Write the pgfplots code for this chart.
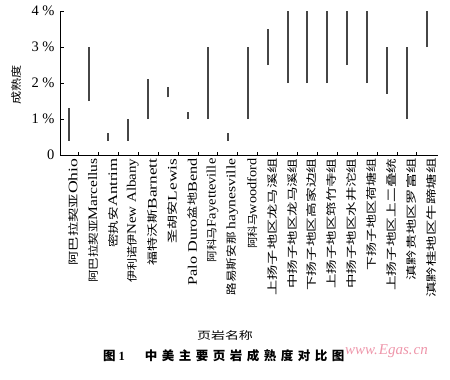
\documentclass[border=0pt]{standalone}
\usepackage{pgfplots}
\pgfplotsset{compat=1.18}
\usepackage{pgfplotstable}
\usepackage{fontspec}
\setmainfont{Liberation Serif}
\newfontfamily\zh{Noto Sans CJK SC}
\definecolor{barc}{RGB}{70,70,70}
\definecolor{wm}{RGB}{238,150,170}
\newcommand{\zs}{\zh\fontsize{10.5bp}{10.5bp}\selectfont}
\newcommand{\ls}{\rmfamily\fontsize{13bp}{13bp}\selectfont}
\newcommand{\lab}[2]{\scalebox{#1}[1]{#2}}

\pgfplotstableread{
x lo hi
1 0.4 1.3
2 1.5 3.0
3 0.4 0.6
4 0.4 1.0
5 1.0 2.1
6 1.6 1.9
7 1.0 1.2
8 1.0 3.0
9 0.4 0.6
10 1.0 3.0
11 2.5 3.5
12 2.0 4.0
13 2.0 4.0
14 2.0 4.0
15 2.5 4.0
16 2.0 4.0
17 1.7 3.0
18 1.0 3.0
19 3.0 4.0
}\maturity

\begin{document}
\begin{tikzpicture}
\useasboundingbox (0,0) rectangle (450bp,-380bp);
\begin{axis}[
  at={(60bp,-155bp)}, anchor=south west,
  scale only axis, width=377.7bp, height=144bp,
  xmin=0.563, xmax=19.55, ymin=0, ymax=4,
  axis lines*=left,
  axis line style={line width=0.8bp, -},
  tick style={black, line width=0.8bp},
  tick align=inside,
  major tick length=4bp, minor tick length=3bp,
  xtick={1,...,19},
  minor xtick={1.5,2.5,...,18.5},
  major x tick style={draw=none},
  xticklabels={
    {\lab{1.36}{\zs 阿巴拉契亚\ls Ohio}},
    {\lab{1.19}{\zs 阿巴拉契亚\ls Marcellus}},
    {\lab{1.29}{\zs 密执安\ls Antrim}},
    {\lab{1.15}{\zs 伊利诺伊\ls New Albany}},
    {\lab{1.33}{\zs 福特沃斯\ls Barnett}},
    {\lab{1.34}{\zs 圣胡安\ls Lewis}},
    {\lab{1.25}{\ls Palo Duro\zs 盆地\ls Bend}},
    {\lab{1.12}{\zs 阿科马\ls Fayetteville}},
    {\lab{1.2}{\zs 路易斯安那 \ls haynesville}},
    {\lab{1.1}{\zs 阿科马\ls woodford}},
    {\lab{1.45}{\zs 上扬子地区龙马溪组}},
    {\lab{1.38}{\zs 中扬子地区龙马溪组}},
    {\lab{1.4}{\zs 下扬子地区高家边组}},
    {\lab{1.38}{\zs 上扬子地区筇竹寺组}},
    {\lab{1.38}{\zs 中扬子地区水井沱组}},
    {\lab{1.33}{\zs 下扬子地区荷塘组}},
    {\lab{1.4}{\zs 上扬子地区上二叠统}},
    {\lab{1.45}{\zs 滇黔贵地区罗富组}},
    {\lab{1.47}{\zs 滇黔桂地区牛蹄塘组}}
  },
  x tick label style={rotate=90, anchor=east, yshift=-4.5bp},
  ytick={0,1,2,3,4},
  yticklabels={0,1 \%,2 \%,3 \%,4 \%},
  y tick label style={font=\fontsize{14.5bp}{14.5bp}\selectfont, xshift=-2bp},
  clip=false,
]
\addplot[mark=none, draw=none,
  error bars/.cd, y dir=plus, y explicit, error mark=none,
  error bar style={draw=barc, line width=2bp, solid}]
  table[x=x, y=lo, y error expr=\thisrow{hi}-\thisrow{lo}] {\maturity};
\end{axis}
\node[rotate=90] at (17bp,-85bp) {\lab{1.25}{\zs 成熟度}};
\node at (225bp,-336bp) {\lab{1.33}{\zs 页岩名称}};
\node[anchor=west, inner sep=0pt] at (103bp,-356bp)
  {\zh\bfseries\fontsize{12.5bp}{12.5bp}\selectfont 图\kern3bp{\rmfamily 1}\kern20bp
   中\kern4.5bp 美\kern4.5bp 主\kern4.5bp 要\kern4.5bp 页\kern4.5bp 岩\kern4.5bp 成\kern4.5bp 熟\kern4.5bp 度\kern4.5bp 对\kern4.5bp 比\kern4.5bp 图};
\node[anchor=west, inner sep=0pt, text=wm] at (345bp,-351bp)
  {\fontsize{15bp}{15bp}\selectfont\itshape www.\kern1bp Egas.\kern1bp cn};
\end{tikzpicture}
\end{document}
